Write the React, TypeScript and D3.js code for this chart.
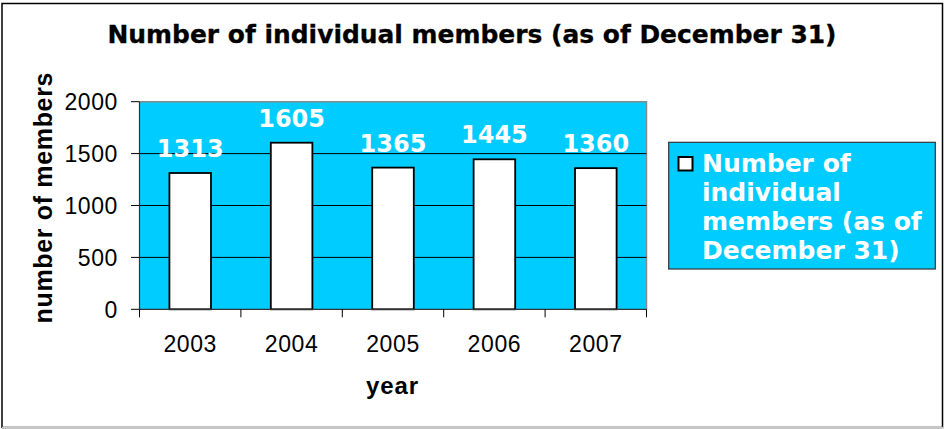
import React from "react";
import * as d3 from "d3";

const years = ["2003", "2004", "2005", "2006", "2007"];
const members = [1313, 1605, 1365, 1445, 1360];
const yTicks = [0, 500, 1000, 1500, 2000];
const title = "Number of individual members (as of December 31)";
const yTitle = "number of members";
const xTitle = "year";
const legendLines = ["Number of", "individual", "members (as of", "December 31)"];

const W = 944;
const H = 429;
const plot = { left: 139.5, right: 646.5, top: 101.7, bottom: 309.3 };
const BLUE = "#00CCFF";

export default function App() {
  const x = d3
    .scaleBand<string>()
    .domain(years)
    .range([plot.left, plot.right])
    .paddingInner(0.59)
    .paddingOuter(0.295);
  const y = d3.scaleLinear().domain([0, 2000]).range([plot.bottom, plot.top]);
  const step = x.step();
  const boundaries = d3.range(years.length + 1).map((i) => plot.left + i * step);

  return (
    <svg
      width={W}
      height={H}
      style={{ position: "absolute", left: 0, top: 0, background: "#fff" }}
    >
      {/* outer frame */}
      <rect x={2} y={3.5} width={940.5} height={424} fill="#fff" stroke="#000" strokeWidth={1.5} />
      <line x1={2} x2={943} y1={427.5} y2={427.5} stroke="#c8c8c8" strokeWidth={1.5} />

      {/* title */}
      <text
        x={472}
        y={43}
        textAnchor="middle"
        fontFamily="DejaVu Sans"
        fontWeight="bold"
        fontSize={24.5}
        textLength={729}
        lengthAdjust="spacingAndGlyphs"
        stroke="#000"
        strokeWidth={0.3}
        fill="#000"
      >
        {title}
      </text>

      {/* plot area */}
      <rect
        x={plot.left}
        y={plot.top}
        width={plot.right - plot.left}
        height={plot.bottom - plot.top}
        fill={BLUE}
      />
      <polyline
        points={`${plot.left},${plot.top} ${plot.right},${plot.top} ${plot.right},${plot.bottom}`}
        fill="none"
        stroke="#8a8a8a"
        strokeWidth={1.5}
      />

      {/* grid lines */}
      {yTicks
        .filter((t) => t > 0 && t < 2000)
        .map((t) => (
          <line
            key={"g" + t}
            x1={plot.left}
            x2={plot.right}
            y1={y(t)}
            y2={y(t)}
            stroke="#000"
            strokeWidth={1}
          />
        ))}

      {/* bars */}
      {years.map((yr, i) => (
        <rect
          key={"b" + yr}
          x={x(yr)!}
          y={y(members[i])}
          width={x.bandwidth()}
          height={plot.bottom - y(members[i])}
          fill="#fff"
          stroke="#000"
          strokeWidth={1.8}
        />
      ))}

      {/* data labels */}
      {years.map((yr, i) => (
        <text
          key={"l" + yr}
          x={x(yr)! + x.bandwidth() / 2}
          y={y(members[i]) - 16}
          textAnchor="middle"
          fontFamily="DejaVu Sans"
          fontWeight="bold"
          fontSize={24}
          fill="#fff"
        >
          {members[i]}
        </text>
      ))}

      {/* y axis */}
      <line x1={plot.left} x2={plot.left} y1={plot.top} y2={plot.bottom} stroke="#333" strokeWidth={1.2} />
      {yTicks.map((t) => (
        <g key={"yt" + t}>
          <line x1={plot.left - 8.5} x2={plot.left} y1={y(t)} y2={y(t)} stroke="#000" strokeWidth={1} />
          <text
            x={118}
            y={y(t)}
            dy="0.36em"
            textAnchor="end"
            fontFamily="Liberation Sans, Arial"
            fontSize={23}
            letterSpacing={0.6}
            fill="#000"
          >
            {t}
          </text>
        </g>
      ))}

      {/* x axis */}
      <line x1={plot.left} x2={plot.right} y1={plot.bottom} y2={plot.bottom} stroke="#333" strokeWidth={1.2} />
      {boundaries.map((bx, i) => (
        <line key={"xt" + i} x1={bx} x2={bx} y1={plot.bottom} y2={plot.bottom + 8} stroke="#000" strokeWidth={1} />
      ))}
      {years.map((yr) => (
        <text
          key={"xl" + yr}
          x={x(yr)! + x.bandwidth() / 2}
          y={351.5}
          textAnchor="middle"
          fontFamily="Liberation Sans, Arial"
          fontSize={23}
          letterSpacing={0.6}
          fill="#000"
        >
          {yr}
        </text>
      ))}

      {/* axis titles */}
      <text
        x={392}
        y={394}
        textAnchor="middle"
        fontFamily="Liberation Sans, Arial"
        fontWeight="bold"
        fontSize={24}
        textLength={52}
        lengthAdjust="spacing"
        fill="#000"
      >
        {xTitle}
      </text>
      <text
        transform={`translate(52,198) rotate(-90)`}
        textAnchor="middle"
        fontFamily="Liberation Sans, Arial"
        fontWeight="bold"
        fontSize={25}
        textLength={251}
        lengthAdjust="spacing"
        fill="#000"
      >
        {yTitle}
      </text>

      {/* legend */}
      <rect x={668.7} y={142.3} width={266.6} height={126.7} fill={BLUE} stroke="#333" strokeWidth={1.2} />
      <rect x={678.5} y={157} width={14} height={13.5} fill="#fff" stroke="#000" strokeWidth={2} />
      {legendLines.map((ln, i) => (
        <text
          key={"lg" + i}
          x={702}
          y={171.7 + i * 29.2}
          fontFamily="DejaVu Sans"
          fontWeight="bold"
          fontSize={25}
          fill="#fff"
        >
          {ln}
        </text>
      ))}
    </svg>
  );
}
